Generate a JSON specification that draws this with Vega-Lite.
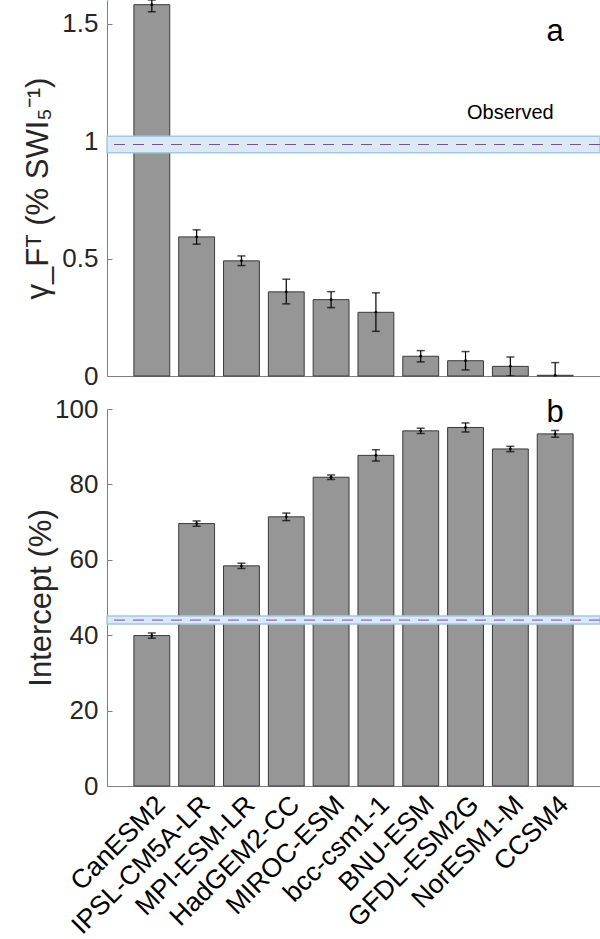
{
  "$schema": "https://vega.github.io/schema/vega-lite/v6.json",
  "padding": {"left": 22, "top": 0, "right": 0, "bottom": 0},
  "spacing": 7,
  "config": {
    "view": {"stroke": null},
    "font": "Liberation Sans",
    "axis": {"grid": false, "domainColor": "#7f7f7f", "tickColor": "#7f7f7f", "labelColor": "#262626", "titleColor": "#262626", "labelFont": "Liberation Sans", "titleFont": "Liberation Sans", "titleFontWeight": "normal"}
  },
  "datasets": {
    "models": [
      {"model": "CanESM2", "g": 1.58, "glo": 1.55, "ghi": 1.60, "b": 39.9, "blo": 39.2, "bhi": 40.6},
      {"model": "IPSL-CM5A-LR", "g": 0.592, "glo": 0.561, "ghi": 0.622, "b": 69.6, "blo": 68.9, "bhi": 70.3},
      {"model": "MPI-ESM-LR", "g": 0.49, "glo": 0.47, "ghi": 0.511, "b": 58.4, "blo": 57.7, "bhi": 59.1},
      {"model": "HadGEM2-CC", "g": 0.358, "glo": 0.307, "ghi": 0.412, "b": 71.4, "blo": 70.4, "bhi": 72.4},
      {"model": "MIROC-ESM", "g": 0.325, "glo": 0.291, "ghi": 0.359, "b": 81.9, "blo": 81.3, "bhi": 82.5},
      {"model": "bcc-csm1-1", "g": 0.271, "glo": 0.19, "ghi": 0.354, "b": 87.7, "blo": 86.2, "bhi": 89.2},
      {"model": "BNU-ESM", "g": 0.084, "glo": 0.06, "ghi": 0.108, "b": 94.2, "blo": 93.5, "bhi": 94.9},
      {"model": "GFDL-ESM2G", "g": 0.065, "glo": 0.026, "ghi": 0.104, "b": 95.1, "blo": 93.9, "bhi": 96.3},
      {"model": "NorESM1-M", "g": 0.041, "glo": 0.0, "ghi": 0.081, "b": 89.4, "blo": 88.7, "bhi": 90.1},
      {"model": "CCSM4", "g": 0.003, "glo": -0.05, "ghi": 0.057, "b": 93.4, "blo": 92.5, "bhi": 94.3}
    ]
  },
  "vconcat": [
    {
      "width": 493,
      "height": 376,
      "data": {"name": "models"},
      "layer": [
        {
          "mark": {"type": "bar", "fill": "#969696", "stroke": "#3a3a3a", "strokeWidth": 1},
          "encoding": {
            "x": {"field": "model", "type": "nominal", "sort": null,
                  "scale": {"paddingInner": 0.2, "paddingOuter": 0.6},
                  "axis": {"labels": false, "ticks": false, "title": null, "domainColor": "#7f7f7f"}},
            "y": {"field": "g", "type": "quantitative",
                  "scale": {"domain": [0, 1.6], "nice": false},
                  "axis": {"values": [0, 0.5, 1, 1.5], "format": "~g", "labelFontSize": 26, "ticks": true, "tickSize": -5, "labelPadding": 14,
                           "title": "γ_Fᵀ (% SWI₅⁻¹)", "titleFontSize": 31, "titleX": -69, "titleBaseline": "middle"}}
          }
        },
        {
          "data": {"values": [{"lo": 0.95, "hi": 1.02}]},
          "mark": {"type": "rect", "fill": "#dce9f5", "stroke": "#9ccbe9", "strokeWidth": 1.5},
          "encoding": {"y": {"field": "lo", "type": "quantitative"}, "y2": {"field": "hi"}}
        },
        {
          "data": {"values": [{"obs": 0.985}]},
          "mark": {"type": "rule", "stroke": "#7e4a98", "strokeDash": [11, 8], "strokeWidth": 1},
          "encoding": {"y": {"field": "obs", "type": "quantitative"}}
        },
        {
          "mark": {"type": "rule", "color": "#000000", "strokeWidth": 1.2, "clip": true},
          "encoding": {"x": {"field": "model", "type": "nominal", "sort": null}, "y": {"field": "glo", "type": "quantitative"}, "y2": {"field": "ghi"}}
        },
        {
          "mark": {"type": "tick", "color": "#000000", "size": 8, "thickness": 1.5, "orient": "horizontal", "clip": true},
          "encoding": {"x": {"field": "model", "type": "nominal", "sort": null}, "y": {"field": "glo", "type": "quantitative"}}
        },
        {
          "mark": {"type": "tick", "color": "#000000", "size": 8, "thickness": 1.5, "orient": "horizontal", "clip": true},
          "encoding": {"x": {"field": "model", "type": "nominal", "sort": null}, "y": {"field": "ghi", "type": "quantitative"}}
        },
        {
          "mark": {"type": "point", "filled": true, "color": "#000000", "size": 8, "opacity": 1},
          "encoding": {"x": {"field": "model", "type": "nominal", "sort": null}, "y": {"field": "g", "type": "quantitative"}}
        },
        {
          "data": {"values": [{"model": "NorESM1-M", "v": 1.095, "t": "Observed"}, {"model": "CCSM4", "v": 1.424, "t": "a"}]},
          "mark": {"type": "text", "baseline": "alphabetic", "align": "center", "color": "#000000"},
          "encoding": {
            "x": {"field": "model", "type": "nominal", "sort": null},
            "y": {"field": "v", "type": "quantitative"},
            "text": {"field": "t"},
            "size": {"condition": {"test": "datum.t === 'a'", "value": 31}, "value": 20}
          }
        }
      ]
    },
    {
      "width": 493,
      "height": 377,
      "data": {"name": "models"},
      "layer": [
        {
          "mark": {"type": "bar", "fill": "#969696", "stroke": "#3a3a3a", "strokeWidth": 1},
          "encoding": {
            "x": {"field": "model", "type": "nominal", "sort": null,
                  "scale": {"paddingInner": 0.2, "paddingOuter": 0.6},
                  "axis": {"title": null, "ticks": false, "labelAngle": -45, "labelAlign": "right", "labelBaseline": "top", "labelFontSize": 26.5, "labelPadding": 5, "labelLimit": 0, "labelColor": "#000000"}},
            "y": {"field": "b", "type": "quantitative",
                  "scale": {"domain": [0, 100], "nice": false},
                  "axis": {"values": [0, 20, 40, 60, 80, 100], "labelFontSize": 26, "ticks": true, "tickSize": -5, "labelPadding": 14,
                           "title": "Intercept (%)", "titleFontSize": 31, "titleX": -66, "titleBaseline": "middle"}}
          }
        },
        {
          "data": {"values": [{"lo": 43.0, "hi": 45.1}]},
          "mark": {"type": "rect", "fill": "#dce9f5", "stroke": "#9ccbe9", "strokeWidth": 1.5},
          "encoding": {"y": {"field": "lo", "type": "quantitative"}, "y2": {"field": "hi"}}
        },
        {
          "data": {"values": [{"obs": 44.0}]},
          "mark": {"type": "rule", "stroke": "#a88bcf", "strokeDash": [11, 8], "strokeWidth": 1.8},
          "encoding": {"y": {"field": "obs", "type": "quantitative"}}
        },
        {
          "mark": {"type": "rule", "color": "#000000", "strokeWidth": 1.2},
          "encoding": {"x": {"field": "model", "type": "nominal", "sort": null}, "y": {"field": "blo", "type": "quantitative"}, "y2": {"field": "bhi"}}
        },
        {
          "mark": {"type": "tick", "color": "#000000", "size": 8, "thickness": 1.5, "orient": "horizontal"},
          "encoding": {"x": {"field": "model", "type": "nominal", "sort": null}, "y": {"field": "blo", "type": "quantitative"}}
        },
        {
          "mark": {"type": "tick", "color": "#000000", "size": 8, "thickness": 1.5, "orient": "horizontal"},
          "encoding": {"x": {"field": "model", "type": "nominal", "sort": null}, "y": {"field": "bhi", "type": "quantitative"}}
        },
        {
          "mark": {"type": "point", "filled": true, "color": "#000000", "size": 8, "opacity": 1},
          "encoding": {"x": {"field": "model", "type": "nominal", "sort": null}, "y": {"field": "b", "type": "quantitative"}}
        },
        {
          "data": {"values": [{"model": "CCSM4", "v": 96.6, "t": "b"}]},
          "mark": {"type": "text", "baseline": "alphabetic", "align": "center", "color": "#000000", "fontSize": 31},
          "encoding": {
            "x": {"field": "model", "type": "nominal", "sort": null},
            "y": {"field": "v", "type": "quantitative"},
            "text": {"field": "t"}
          }
        }
      ]
    }
  ]
}
